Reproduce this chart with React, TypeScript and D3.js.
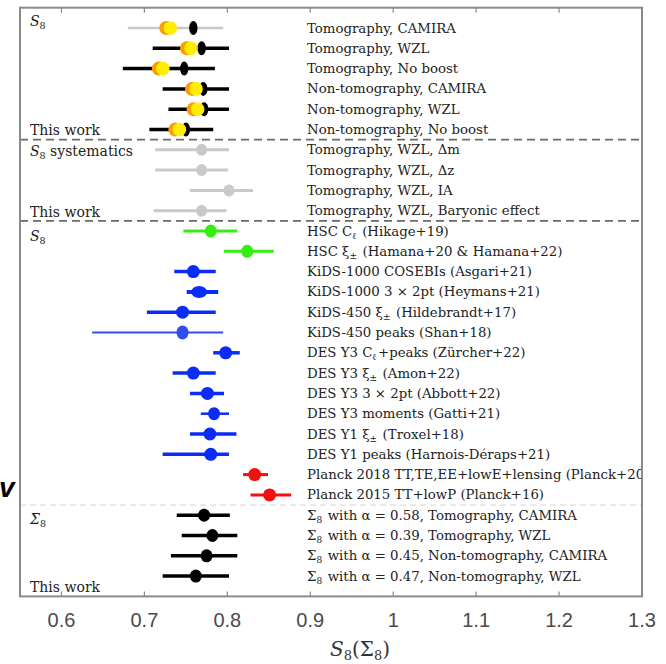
import React from "react";
import * as d3 from "d3";

// Row labels, top to bottom ("_{..}" marks a subscript)
const rowLabels = [
  "Tomography, CAMIRA",
  "Tomography, WZL",
  "Tomography, No boost",
  "Non-tomography, CAMIRA",
  "Non-tomography, WZL",
  "Non-tomography, No boost",
  "Tomography, WZL, Δm",
  "Tomography, WZL, Δz",
  "Tomography, WZL, IA",
  "Tomography, WZL, Baryonic effect",
  "HSC C_{ℓ} (Hikage+19)",
  "HSC ξ_{±} (Hamana+20 & Hamana+22)",
  "KiDS-1000 COSEBIs (Asgari+21)",
  "KiDS-1000 3 × 2pt (Heymans+21)",
  "KiDS-450 ξ_{±} (Hildebrandt+17)",
  "KiDS-450 peaks (Shan+18)",
  "DES Y3 C_{ℓ}+peaks (Zürcher+22)",
  "DES Y3 ξ_{±} (Amon+22)",
  "DES Y3 3 × 2pt (Abbott+22)",
  "DES Y3 moments (Gatti+21)",
  "DES Y1 ξ_{±} (Troxel+18)",
  "DES Y1 peaks (Harnois-Déraps+21)",
  "Planck 2018 TT,TE,EE+lowE+lensing (Planck+20)",
  "Planck 2015 TT+lowP (Planck+16)",
  "Σ_{8} with α = 0.58, Tomography, CAMIRA",
  "Σ_{8} with α = 0.39, Tomography, WZL",
  "Σ_{8} with α = 0.45, Non-tomography, CAMIRA",
  "Σ_{8} with α = 0.47, Non-tomography, WZL",
];

// Survey / group of each row
const rowGroup = [
  "main", "main", "main", "main", "main", "main",
  "sys", "sys", "sys", "sys",
  "hsc", "hsc",
  "blue", "blueWide", "blue", "blueThin", "blue", "blue", "blue", "blueMid", "blue", "blue",
  "planck", "planck",
  "sigma", "sigma", "sigma", "sigma",
];

// Central values and 68% intervals
const centerValues = [
  0.759, 0.769, 0.748, 0.771, 0.772, 0.750,
  0.769, 0.769, 0.802, 0.769,
  0.780, 0.824,
  0.759, 0.766, 0.746, 0.746, 0.798, 0.759, 0.776, 0.784, 0.779, 0.780,
  0.833, 0.851,
  0.772, 0.782, 0.775, 0.762,
];
const lowerValues = [
  0.680, 0.710, 0.674, 0.722, 0.729, 0.706,
  0.713, 0.713, 0.755, 0.711,
  0.747, 0.796,
  0.736, 0.751, 0.703, 0.637, 0.783, 0.734, 0.755, 0.768, 0.755, 0.722,
  0.819, 0.828,
  0.739, 0.745, 0.732, 0.722,
];
const upperValues = [
  0.795, 0.802, 0.785, 0.802, 0.802, 0.783,
  0.802, 0.801, 0.831, 0.799,
  0.812, 0.856,
  0.786, 0.789, 0.786, 0.795, 0.815, 0.786, 0.796, 0.802, 0.811, 0.802,
  0.849, 0.877,
  0.803, 0.812, 0.812, 0.802,
];
// Alternative estimate shown for the first block (yellow/orange markers)
const altValues = [0.730, 0.755, 0.721, 0.761, 0.763, 0.741];

// Block headers and separators
const sectionTitles = [
  { row: -0.35, parts: ["S", "8", ""] },
  { row: 6.05, parts: ["S", "8", " systematics"] },
  { row: 10.25, parts: ["S", "8", ""] },
  { row: 24.2, parts: ["Σ", "8", ""] },
];
const thisWorkRows = [5.05, 9.05, 27.55];
const separatorRows = [5.5, 9.5];
const lightSeparatorRows = [23.5];

const xTicks = [0.6, 0.7, 0.8, 0.9, 1.0, 1.1, 1.2, 1.3];

const groupStyle: Record<string, { color: string; bar: number; rx: number; ry: number }> = {
  main: { color: "#000000", bar: 3.5, rx: 4.2, ry: 7 },
  sys: { color: "#c9c9c9", bar: 3, rx: 5.5, ry: 6 },
  hsc: { color: "#33ee11", bar: 3, rx: 6, ry: 6.5 },
  blue: { color: "#0a2cf5", bar: 3.5, rx: 6.5, ry: 6.5 },
  blueWide: { color: "#0a2cf5", bar: 4, rx: 8, ry: 6 },
  blueThin: { color: "#2e4ef2", bar: 1.8, rx: 6, ry: 7 },
  blueMid: { color: "#0a2cf5", bar: 2.5, rx: 6, ry: 6.5 },
  planck: { color: "#f01010", bar: 3, rx: 6.5, ry: 6.5 },
  sigma: { color: "#000000", bar: 3.5, rx: 6, ry: 6.5 },
};

const W = 666;
const H = 664;
const serif = "'DejaVu Serif', 'Liberation Serif', serif";
const sans = "'Liberation Sans', 'DejaVu Sans', sans-serif";

// Split "_{..}" markup into normal / subscript pieces
function renderRich(s: string, subSize: number) {
  const parts: React.ReactNode[] = [];
  const re = /_\{([^}]*)\}/g;
  let last = 0;
  let m: RegExpExecArray | null;
  let k = 0;
  while ((m = re.exec(s)) !== null) {
    if (m.index > last) parts.push(<tspan key={k++}>{s.slice(last, m.index)}</tspan>);
    parts.push(<tspan key={k++} fontSize={subSize} dy={3}>{m[1]}</tspan>);
    parts.push(<tspan key={k++} dy={-3}>{"\u200a"}</tspan>);
    last = m.index + m[0].length;
  }
  if (last < s.length) parts.push(<tspan key={k++}>{s.slice(last)}</tspan>);
  return parts;
}

export default function App() {
  const x = d3.scaleLinear().domain([0.55, 1.3]).range([20, 642]);
  const y = d3.scaleLinear().domain([-1, 28]).range([7.7, 596.4]);
  const left = x(0.55);
  const right = x(1.3);
  const top = y(-1);
  const bottom = y(28);

  return (
    <svg
      width={W}
      height={H}
      style={{ position: "absolute", left: 0, top: 0, background: "#fff" }}
    >
      <defs>
        <clipPath id="frameClip">
          <rect x={left} y={top} width={right - left} height={bottom - top} />
        </clipPath>
      </defs>

      {/* stray glyph at the left margin */}
      <text x={-1} y={497} fontFamily={sans} fontWeight="bold" fontStyle="italic" fontSize={28} fill="#000">
        v
      </text>

      {/* separators */}
      {separatorRows.map((r) => (
        <line key={"s" + r} x1={left} x2={right} y1={y(r)} y2={y(r)}
          stroke="#6a6a6a" strokeWidth={1.6} strokeDasharray="8,5" />
      ))}
      {lightSeparatorRows.map((r) => (
        <line key={"l" + r} x1={left} x2={right} y1={y(r)} y2={y(r)}
          stroke="#d4d4d4" strokeWidth={1} strokeDasharray="6,4" />
      ))}

      {/* error bars and markers */}
      <g>
        {rowLabels.map((_, i) => {
          const st = groupStyle[rowGroup[i]];
          const barColor = i === 0 ? "#c8c8c8" : st.color;
          const barW = i === 0 ? 2.5 : st.bar;
          const cy = y(i);
          return (
            <g key={"m" + i}>
              <line x1={x(lowerValues[i])} x2={x(upperValues[i])} y1={cy} y2={cy}
                stroke={barColor} strokeWidth={barW} />
              <ellipse cx={x(centerValues[i])} cy={cy} rx={st.rx} ry={st.ry} fill={st.color} />
              {i < altValues.length && (
                <g>
                  <circle cx={x(altValues[i]) - 3} cy={cy} r={7} fill="#ff9a00" />
                  <circle cx={x(altValues[i]) + 1} cy={cy} r={6.8} fill="#ffee00" />
                </g>
              )}
            </g>
          );
        })}
      </g>

      {/* row labels */}
      <g clipPath="url(#frameClip)">
        {rowLabels.map((lab, i) => (
          <text key={"t" + i} x={307} y={y(i) + 4.5} fontFamily={serif} fontSize={13.3} fill="#222">
            {renderRich(lab, 9)}
          </text>
        ))}
      </g>

      {/* block titles */}
      {sectionTitles.map((s, i) => (
        <text key={"h" + i} x={30} y={y(s.row) + 4.8} fontFamily={serif} fontSize={14} fill="#222">
          <tspan fontStyle="italic">{s.parts[0]}</tspan>
          <tspan fontSize={9.5} dy={3}>{s.parts[1]}</tspan>
          <tspan dy={-3}>{s.parts[2]}</tspan>
        </text>
      ))}
      {thisWorkRows.map((r) => (
        <text key={"w" + r} x={30} y={y(r) + 4.8} fontFamily={serif} fontSize={14} fill="#222">
          This work
        </text>
      ))}

      {/* frame */}
      <rect x={left} y={top} width={right - left} height={bottom - top}
        fill="none" stroke="#8a8a8a" strokeWidth={2} />

      {/* ticks */}
      {xTicks.filter((t) => t < 1.25).map((t) => (
        <g key={"k" + t}>
          <line x1={x(t)} x2={x(t)} y1={top} y2={top + 5} stroke="#8a8a8a" strokeWidth={1.2} />
          <line x1={x(t)} x2={x(t)} y1={bottom} y2={bottom - 5} stroke="#8a8a8a" strokeWidth={1.2} />
        </g>
      ))}
      {xTicks.map((t) => (
        <text key={"kl" + t} x={x(t)} y={627} textAnchor="middle" fontFamily={sans}
          fontSize={20} fill="#4a4a4a">
          {d3.format("~g")(t)}
        </text>
      ))}

      {/* axis title */}
      <text x={360} y={656} textAnchor="middle" fontFamily={serif} fontSize={20} fill="#333">
        <tspan fontStyle="italic">S</tspan>
        <tspan fontSize={13} dy={4}>8</tspan>
        <tspan dy={-4}>(Σ</tspan>
        <tspan fontSize={13} dy={4}>8</tspan>
        <tspan dy={-4}>)</tspan>
      </text>
    </svg>
  );
}
